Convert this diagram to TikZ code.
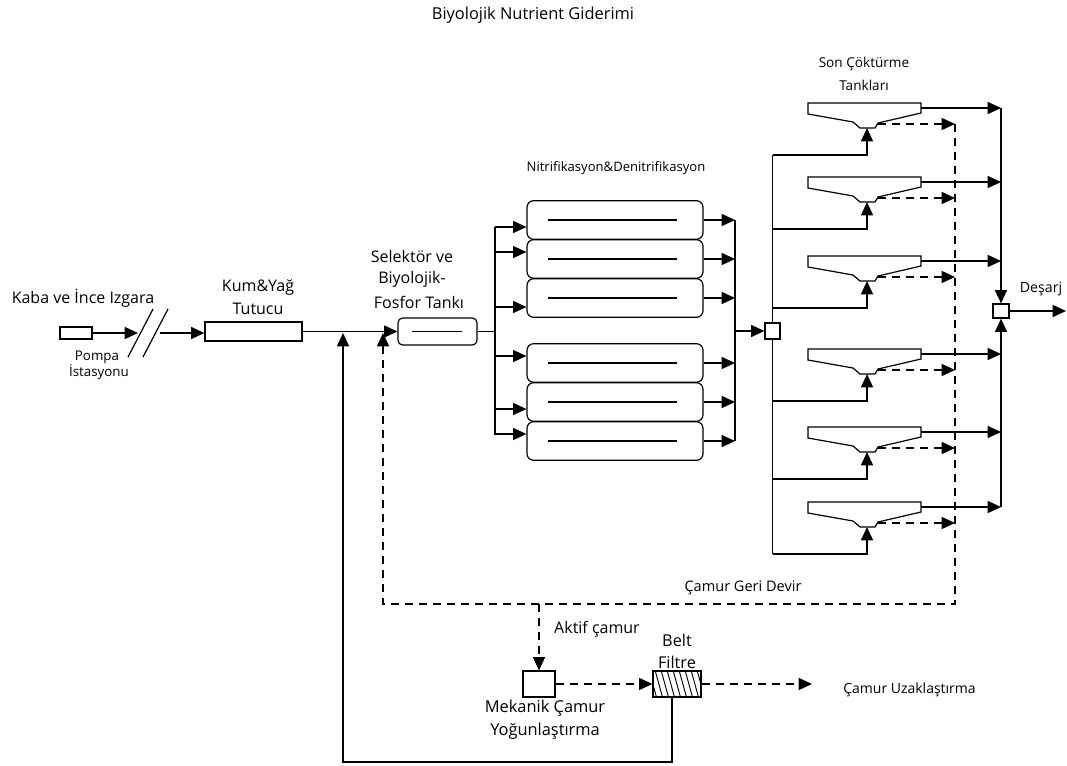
\documentclass[tikz,border=0pt]{standalone}
\usepackage{fontspec}
\setmainfont{Open Sans}
\usetikzlibrary{arrows.meta}
\begin{document}
\begin{tikzpicture}[x=0.75pt,y=-0.75pt,
  line/.style={line width=1.1pt},
  thinline/.style={line width=0.9pt},
  tip/.style={-{Triangle[length=10pt,width=9pt]}},
  arr/.style={line,tip},
  dsh/.style={line width=1.1pt,dash pattern=on 6pt off 4.5pt},
  lbl/.style={inner sep=0pt,align=center},
  fs/.style={font=\fontsize{#1}{#1}\selectfont},
  boxa/.style={draw,thinline,fill=white,inner sep=0pt},
  tank/.style={boxa,rounded corners=5pt,minimum width=132pt,minimum height=29pt}
]
\useasboundingbox (0,0) rectangle (1067,765);

% ---- labels ----
\node[lbl,fs=12.3] (title) at (533,15) {Biyolojik Nutrient Giderimi};
\node[lbl,fs=12] (lkaba) at (83,298) {Kaba ve İnce Izgara};
\node[lbl,fs=10] (lpompa) at (97,357) {Pompa};
\node[lbl,fs=10] (list) at (99,372) {İstasyonu};
\node[lbl,fs=12] (lkum1) at (258,288) {Kum\&Yağ};
\node[lbl,fs=12] (lkum2) at (258,309) {Tutucu};
\node[lbl,fs=12] (lsel1) at (412,256) {Selektör ve};
\node[lbl,fs=12] (lsel2) at (412,279) {Biyolojik-};
\node[lbl,fs=12] (lsel3) at (419,302) {Fosfor Tankı};
\node[lbl,fs=9.8] (lnit) at (616,168) {Nitrifikasyon\&Denitrifikasyon};
\node[lbl,fs=10.2] (lson1) at (864,64) {Son Çöktürme};
\node[lbl,fs=10.2] (lson2) at (864,85) {Tankları};
\node[lbl,fs=10.6] (ldes) at (1041,289) {Deşarj};
\node[lbl,fs=10.9] (lgeri) at (743,588) {Çamur Geri Devir};
\node[lbl,fs=12] (lakt) at (597,629) {Aktif çamur};
\node[lbl,fs=12.3] (lmek1) at (545,708) {Mekanik Çamur};
\node[lbl,fs=12.3] (lmek2) at (545,731) {Yoğunlaştırma};
\node[lbl,fs=12.2] (lbelt1) at (677,640) {Belt};
\node[lbl,fs=12.2] (lbelt2) at (677,662) {Filtre};
\node[lbl,fs=10.5,anchor=west] (luz) at (843,690) {Çamur Uzaklaştırma};

% ---- front end ----
\node[boxa,minimum width=24pt,minimum height=9pt] (pump) at (76,333) {};
\coordinate (s1) at (138,333);
\coordinate (s2) at (160,333);
\draw[thinline] (128,357) -- (153,309);
\draw[thinline] (143,357) -- (168,309);
\draw[arr] (pump.east) -- (s1);
\node[boxa,minimum width=72.75pt,minimum height=14.25pt] (kum) at (253.5,331.5) {};
\draw[arr] (s2) -- (kum.west |- s2);
\node[boxa,rounded corners=3.5pt,minimum width=59.25pt,minimum height=20.25pt] (sel) at (437.5,331.5) {};
\draw[thinline] (412,331.5) -- (462,331.5);
\draw[arr] (kum.east) -- (sel.west);

% ---- aeration tanks ----
\coordinate (dtop) at (495,227);
\coordinate (dbot) at (495,435);
\draw[line] (sel.east) -- (sel.east -| dtop);
\draw[line] (dtop) -- (dbot);
\foreach \yc/\ya [count=\i] in {220/227,259/252,298/307,363/356,402/409,441/434} {
  \node[tank] (t\i) at (615,\yc) {};
  \draw[thinline] (548,\yc) -- (677,\yc);
  \coordinate (d\i) at (495,\ya);
  \draw[arr] (d\i) -- (d\i -| t\i.west);
}
\coordinate (ctop) at (735,220);
\coordinate (cbot) at (735,441);
\coordinate (cm) at (735,331);
\draw[line] (ctop) -- (cbot);
\foreach \i in {1,...,6} { \draw[arr] (t\i.east) -- (t\i.east -| cm); }
\node[boxa,minimum width=11.25pt,minimum height=12pt] (mix) at (772.5,331) {};
\draw[arr] (cm) -- (mix.west);

% ---- clarifiers ----
\node[boxa,minimum width=12pt,minimum height=10.5pt] (des) at (1001,311) {};
\coordinate (rv) at (955,604);
\coordinate (lv) at (383,604);
\coordinate (lvt) at (383,333);
\foreach \y [count=\i] in {103,177,256,349,427,502} {
  \draw[thinline] (808,\y) -- (921,\y) -- (921,\y+10) -- (878,\y+20) -- (875,\y+25)
     -- (860,\y+25) -- (853,\y+19) -- (808,\y+11) -- cycle;
  \coordinate (ko\i) at (921,\y+5);
  \coordinate (kb\i) at (867,\y+25);
  \coordinate (kd\i) at (878,\y+21);
  \coordinate (fb\i) at (773,\y+52);
  \draw[arr] (fb\i) -| (kb\i);
  \draw[arr] (ko\i) -- (ko\i -| des);
  \draw[dsh,tip] (kd\i) -- (kd\i -| rv);
}
\draw[line] (mix.north) -- (mix.north |- fb1);
\draw[line] (mix.south) -- (mix.south |- fb6);
\draw[arr] (ko1 -| des) -- (des.north);
\draw[arr] (ko6 -| des) -- (des.south);
\coordinate (dout) at (1066,311);
\draw[arr] (des.east) -- (dout);

% ---- sludge return ----
\draw[dsh,tip] (kd1 -| rv) -- (rv) -- (lv) -- (lvt);
\coordinate (ak) at (539,604);
\node[boxa,minimum width=24pt,minimum height=19.5pt] (mek) at (539,684) {};
\draw[dsh,tip] (ak) -- (mek.north);
\node[boxa,minimum width=36pt,minimum height=18.75pt] (belt) at (677,684) {};
\begin{scope}
  \clip (belt.south west) rectangle (belt.north east);
  \foreach \k in {0,...,10} { \draw[line width=0.7pt] (649+6*\k,670) -- (657+6*\k,699); }
\end{scope}
\draw[thinline] (belt.south west) rectangle (belt.north east);
\draw[dsh,tip] (mek.east) -- (belt.west);
\coordinate (uz) at (812,684);
\draw[dsh,tip] (belt.east) -- (uz);
\coordinate (r1) at (672,762);
\coordinate (r2) at (343,762);
\coordinate (r2t) at (343,333);
\draw[arr] (belt.south -| r1) -- (r1) -- (r2) -- (r2t);
\end{tikzpicture}
\end{document}
